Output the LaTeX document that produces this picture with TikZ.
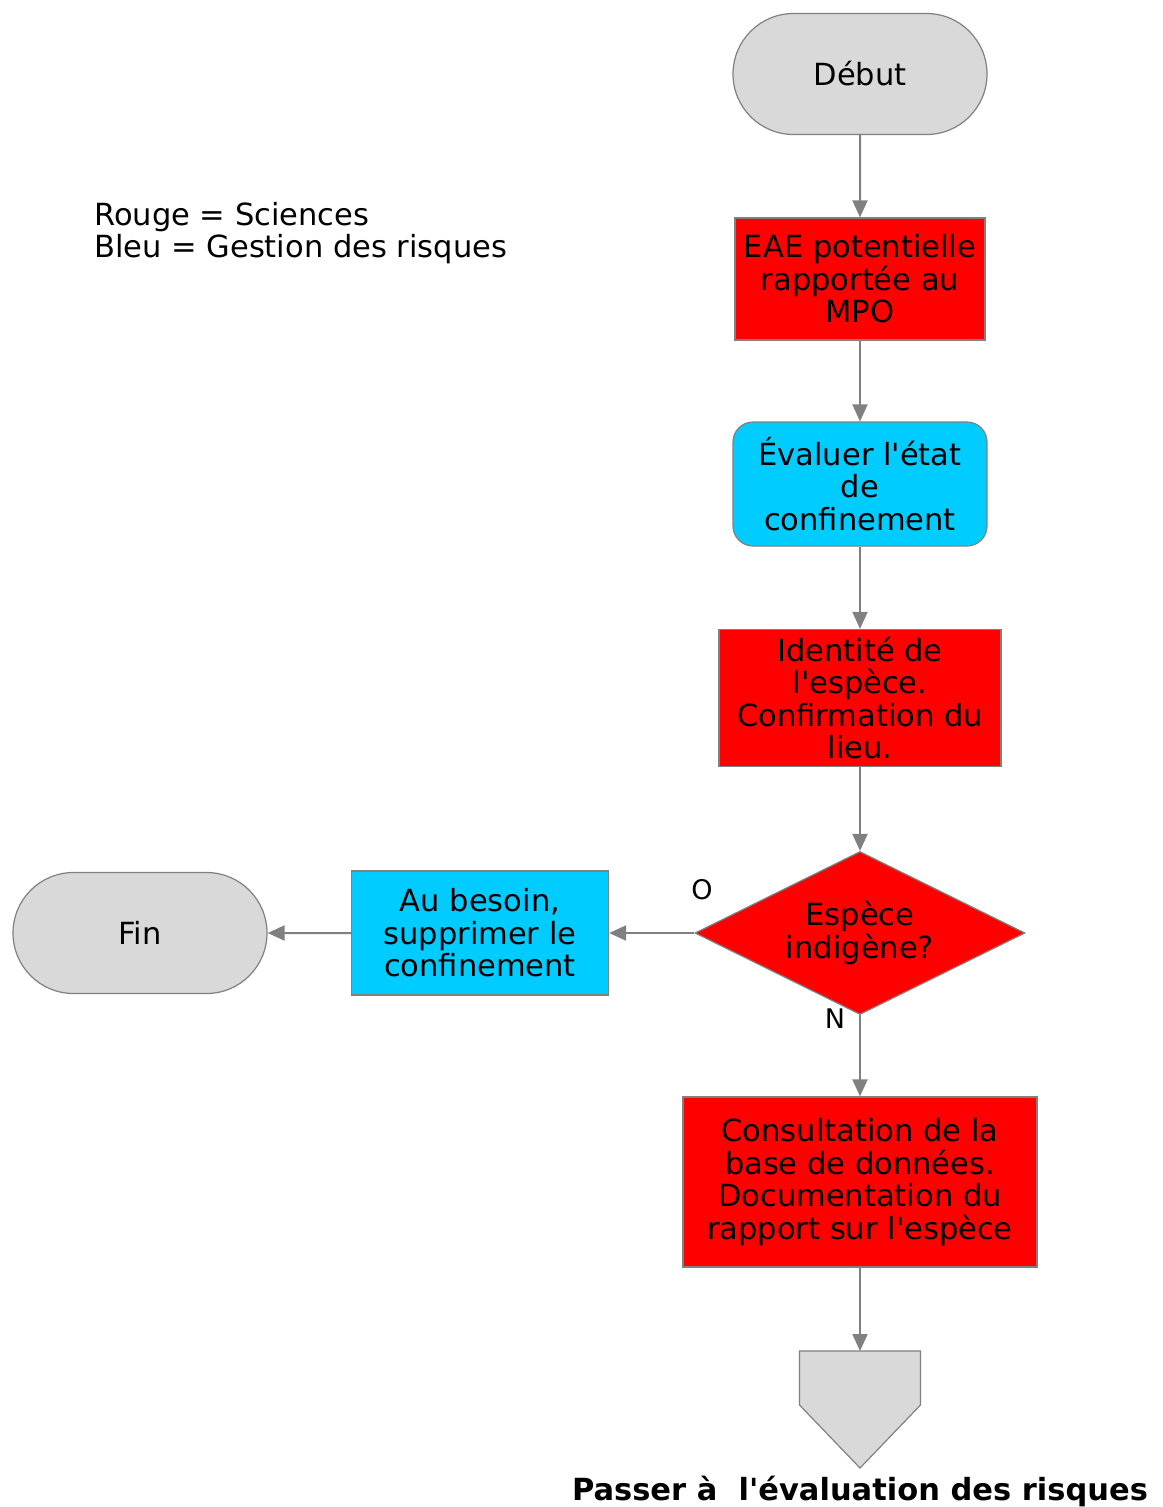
\documentclass[tikz,border=0pt]{standalone}
\usepackage{fontspec}
\setmainfont{DejaVu Sans}
\usetikzlibrary{arrows.meta,shapes.geometric,shapes.misc}
\definecolor{sci}{RGB}{255,0,0}
\definecolor{risk}{RGB}{0,204,255}
\definecolor{term}{RGB}{217,217,217}
\definecolor{edge}{RGB}{128,128,128}
\newcommand{\apos}{\textquotesingle}
\begin{document}
\begin{tikzpicture}[x=1pt,y=-1pt,
  every node/.style={font=\fontsize{30.5}{32.5}\selectfont, align=center, inner sep=0pt},
  box/.style={draw=edge, line width=1.2pt},
  science/.style={box, rectangle, fill=sci},
  mgmt/.style={box, fill=risk},
  terminal/.style={box, rounded rectangle, fill=term, minimum width=254, minimum height=121},
  decision/.style={box, diamond, fill=sci, minimum width=330, minimum height=163, aspect=2},
  flow/.style={draw=edge, line width=2pt, -{Triangle[length=17pt,width=15pt]}},
  tag/.style={font=\fontsize{27}{30}\selectfont}]
\useasboundingbox (0,0) rectangle (1162,1507);

% start / end terminals
\node[terminal] (start) at (860,74) {Début};
\node[terminal] (stop) at (140,933) {Fin};

% process steps
\node[science, minimum width=250, minimum height=122] (report) at (860,279)
  {EAE potentielle\\rapportée au\\MPO};
\node[mgmt, rounded corners=20pt, minimum width=254, minimum height=124] (contain) at (860,484)
  {Évaluer l\apos état\\de\\confinement};
\node[science, minimum width=282, minimum height=137] (ident) at (860,698)
  {Identité de\\l\apos espèce.\\Confirmation du\\lieu.};
\node[decision] (native) at (860,933) {Espèce\\indigène?};
\node[mgmt, rectangle, minimum width=257, minimum height=124] (lift) at (480,933)
  {Au besoin,\\supprimer le\\confinement};
\node[science, minimum width=354, minimum height=170] (consult) at (860,1182)
  {Consultation de la\\base de données.\\Documentation du\\rapport sur l\apos espèce};

% off-page connector
\draw[box, fill=term] (799.5,1351) -- (920.5,1351) -- (920.5,1405) -- (860,1468)
  -- (799.5,1405) -- cycle;
\coordinate (next) at (860,1351);
\node[font=\bfseries\fontsize{30.5}{32}\selectfont, anchor=base] (nextlabel) at (860,1500)
  {Passer à\ \ l\apos évaluation des risques};

% legend
\node[anchor=west, align=left] (legend) at (94,233)
  {Rouge = Sciences\\Bleu = Gestion des risques};

% connectors
\draw[flow] (start) -- (report);
\draw[flow] (report) -- (contain);
\draw[flow] (contain) -- (ident);
\draw[flow] (ident) -- (native);
\draw[flow] (native) -- (lift);
\draw[flow] (lift) -- (stop);
\draw[flow] (native) -- (consult);
\draw[flow] (consult) -- (next);

% branch labels
\node[tag] (yes) at (702,890) {O};
\node[tag] (no) at (835,1019) {N};
\end{tikzpicture}
\end{document}
